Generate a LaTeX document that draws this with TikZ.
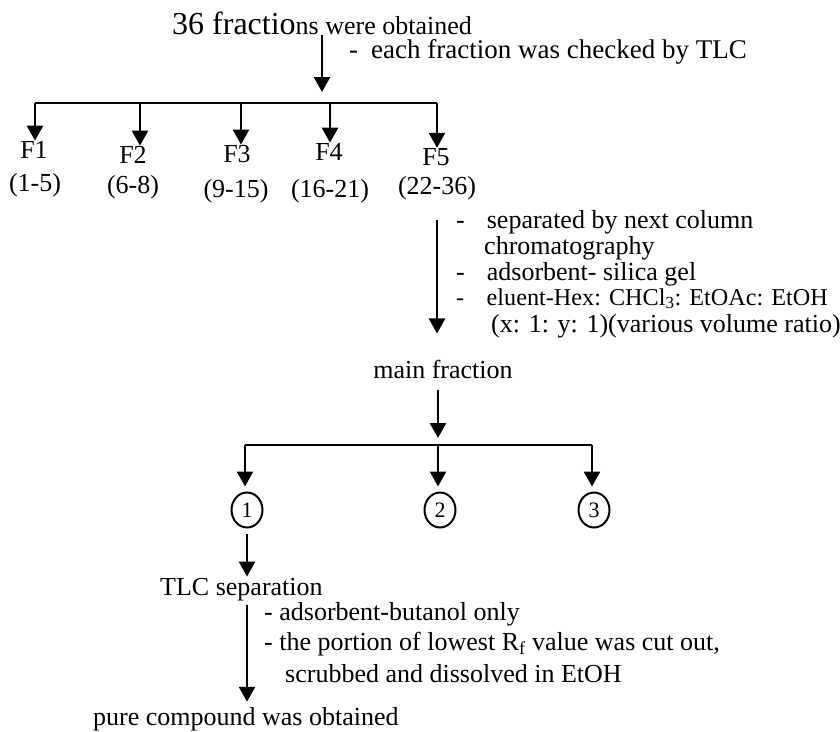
\documentclass[tikz,border=0pt]{standalone}
\usepackage{fontspec}
\setmainfont{Liberation Serif}
\usetikzlibrary{arrows.meta,shapes.geometric}
\begin{document}
\begin{tikzpicture}[x=1pt,y=-1pt,
  txt/.style={inner sep=0pt, font=\fontsize{26}{30}\selectfont},
  arr/.style={line width=2.6pt, -{Triangle[length=15pt 0,width=16pt 0]}},
  bar/.style={line width=2.2pt},
  circ/.style={draw, ellipse, line width=2pt, minimum width=31pt, minimum height=35pt, inner sep=0pt, font=\fontsize{22}{26}\selectfont}]
\useasboundingbox (0,0) rectangle (840,731);
% top
\node[txt, anchor=base west] (title) at (172,34) {{\fontsize{32}{36}\selectfont 36 fractio}ns were obtained};
\node[txt, anchor=base west, font=\fontsize{27}{30}\selectfont] (note1) at (349,58) {-\hspace{13pt}each fraction was checked by TLC};
\coordinate (a0end) at (322,92);
\draw[arr] (title.south -| a0end) -- (a0end);
\coordinate (b1) at (35,103);
\coordinate (b2) at (140,103);
\coordinate (b3) at (241,103);
\coordinate (b4) at (330,103);
\coordinate (b5) at (437,103);
\draw[bar] (b1) -- (b5);
\node[txt, anchor=base] (f1) at (34,158) {F1};
\node[txt, anchor=base] (f2) at (133,163) {F2};
\node[txt, anchor=base] (f3) at (237,162) {F3};
\node[txt, anchor=base] (f4) at (329,160) {F4};
\node[txt, anchor=base] (f5) at (436,165) {F5};
\foreach \i in {1,...,5} \draw[arr] (b\i) -- (b\i |- f\i.north);
\node[txt, anchor=base] (r1) at (35,191) {(1-5)};
\node[txt, anchor=base] (r2) at (133,193) {(6-8)};
\node[txt, anchor=base] (r3) at (236,197) {(9-15)};
\node[txt, anchor=base] (r4) at (330,197) {(16-21)};
\node[txt, anchor=base] (r5) at (437,194) {(22-36)};
% column step
\node[txt, anchor=base west] (n2a) at (456,228) {-\hspace{22pt}separated by next column};
\node[txt, anchor=base west] (n2b) at (484,254) {chromatography};
\node[txt, anchor=base west] (n2c) at (456,280) {-\hspace{22pt}adsorbent- silica gel};
\node[txt, anchor=base west, font=\fontsize{24.2}{30}\selectfont] (n2d) at (456,305) {-\hspace{22.5pt}eluent-Hex: CHCl\textsubscript{3}: EtOAc: EtOH};
\node[txt, anchor=base west] (n2e) at (491,332) {(x: 1: y: 1)(various volume ratio)};
\node[txt, anchor=base] (mainf) at (443,378) {main fraction};
\draw[arr, shorten <=20pt, shorten >=26pt] (r5.south) -- (r5.south |- mainf.north);
\coordinate (cend) at (438,438);
\draw[arr, shorten <=12pt] (mainf.south -| cend) -- (cend);
\coordinate (d1) at (245,445);
\coordinate (d2) at (438,445);
\coordinate (d3) at (592,445);
\draw[bar] (d1) -- (d3);
\node[circ] (c1) at (247,510) {1};
\node[circ] (c2) at (440,510) {2};
\node[circ] (c3) at (594,510) {3};
\foreach \i in {1,2,3} \draw[arr, shorten >=5pt] (d\i) -- (d\i |- c\i.north);
% TLC step
\node[txt, anchor=base west] (tlc) at (160,595) {TLC separation};
\node[txt, anchor=base west] (pure) at (93,725) {pure compound was obtained};
\draw[arr, shorten <=5pt, shorten >=1pt] (c1.south) -- (c1.south |- tlc.north);
\draw[arr, shorten <=4pt, shorten >=5pt] (tlc.south -| c1) -- (pure.north -| c1);
\node[txt, anchor=base west] (n3a) at (264,620) {- adsorbent-butanol only};
\node[txt, anchor=base west] (n3b) at (264,650) {- the portion of lowest R\textsubscript{f} value was cut out,};
\node[txt, anchor=base west] (n3c) at (285,682) {scrubbed and dissolved in EtOH};
\end{tikzpicture}
\end{document}
